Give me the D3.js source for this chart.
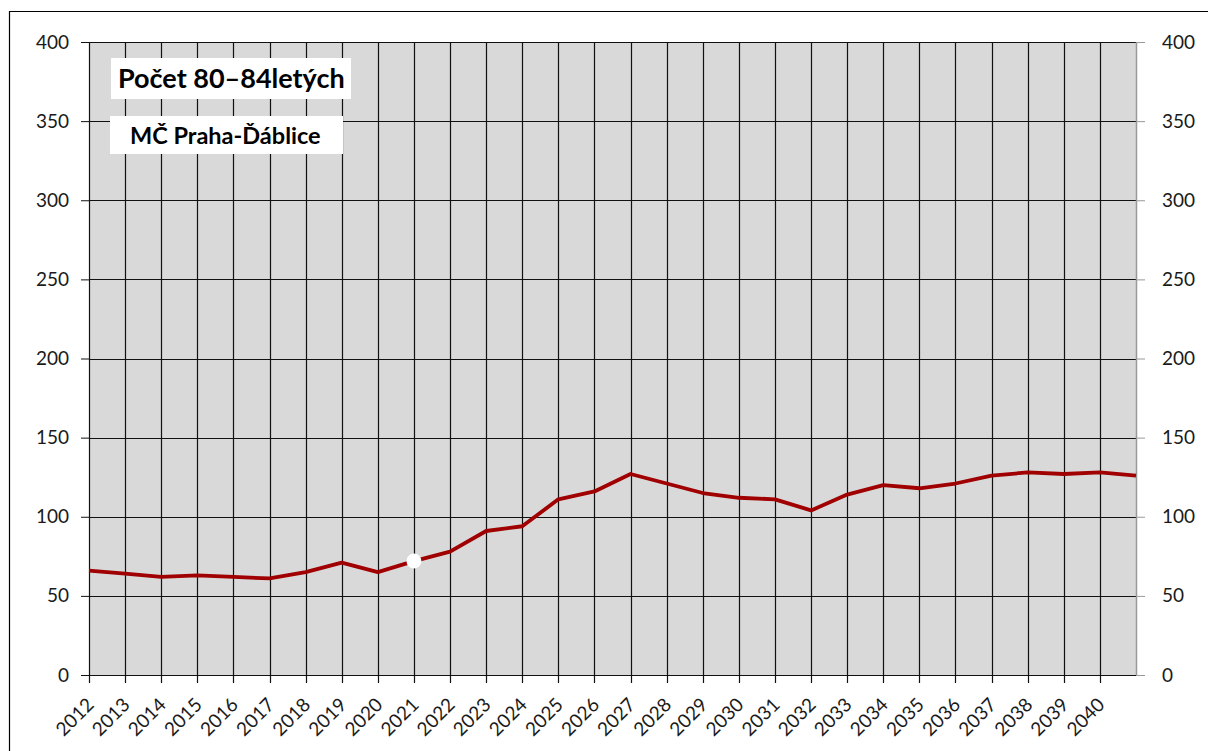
<!DOCTYPE html>
<html>
<head>
<meta charset="utf-8">
<script src="https://cdn.jsdelivr.net/npm/d3@7"></script>
<style>
  html, body { margin: 0; padding: 0; background: #fff; }
  svg { display: block; }
  text { font-family: Lato, "Liberation Sans", sans-serif; }
</style>
</head>
<body>
<svg id="chart" width="1208" height="751"></svg>
<script>
// Years on the horizontal axis (last point sits on the right edge of the plot)
const years = [2012, 2013, 2014, 2015, 2016, 2017, 2018, 2019, 2020, 2021,
               2022, 2023, 2024, 2025, 2026, 2027, 2028, 2029, 2030, 2031,
               2032, 2033, 2034, 2035, 2036, 2037, 2038, 2039, 2040, 2041];
// Number of people aged 80–84
const counts = [66, 64, 62, 63, 62, 61, 65, 71, 65, 72,
                78, 91, 94, 111, 116, 127, 121, 115, 112, 111,
                104, 114, 120, 118, 121, 126, 128, 127, 128, 126];
const tickYears = years.slice(0, -1);
const yTicks = [0, 50, 100, 150, 200, 250, 300, 350, 400];
const markedYear = 2021;
const titleText = "Počet 80–84letých";
const subtitleText = "MČ Praha-Ďáblice";

const svg = d3.select("#chart");
const plot = { left: 89, right: 1136, top: 42, bottom: 675 };

const x = d3.scaleLinear().domain([2012, 2041]).range([plot.left, plot.right]);
const y = d3.scaleLinear().domain([0, 400]).range([plot.bottom, plot.top]);

// outer chart frame
svg.append("path")
  .attr("d", `M9.5,751 V11.5 H1208`)
  .attr("fill", "none").attr("stroke", "#000").attr("stroke-width", 1.2);

// plot background
svg.append("rect")
  .attr("x", plot.left).attr("y", plot.top)
  .attr("width", plot.right - plot.left).attr("height", plot.bottom - plot.top)
  .attr("fill", "#d9d9d9");

// horizontal gridlines
svg.append("g").selectAll("line").data(yTicks).join("line")
  .attr("x1", plot.left).attr("x2", plot.right)
  .attr("y1", d => Math.round(y(d)) + 0.5).attr("y2", d => Math.round(y(d)) + 0.5)
  .attr("stroke", "#111").attr("stroke-width", 1.2);

// vertical gridlines with tick marks below the axis
svg.append("g").selectAll("line").data(tickYears).join("line")
  .attr("x1", d => Math.round(x(d)) + 0.5).attr("x2", d => Math.round(x(d)) + 0.5)
  .attr("y1", plot.top).attr("y2", plot.bottom + 8)
  .attr("stroke", "#111").attr("stroke-width", 1.2);

// right border of the plot
svg.append("line")
  .attr("x1", plot.right + 0.5).attr("x2", plot.right + 0.5)
  .attr("y1", plot.top).attr("y2", plot.bottom)
  .attr("stroke", "#999").attr("stroke-width", 1.5);

// left axis
const leftAxis = d3.axisLeft(y).tickValues(yTicks).tickSize(8).tickPadding(12);
const gl = svg.append("g").attr("transform", `translate(${plot.left},0)`).call(leftAxis);
gl.select(".domain").attr("stroke", "#111");
gl.selectAll(".tick line").attr("stroke", "#111");
gl.selectAll(".tick text").attr("font-size", 19).attr("fill", "#1a1a1a")
  .attr("font-family", "Lato, sans-serif");

// right axis
const rightAxis = d3.axisRight(y).tickValues(yTicks).tickSize(9).tickPadding(17);
const gr = svg.append("g").attr("transform", `translate(${plot.right},0)`).call(rightAxis);
gr.select(".domain").remove();
gr.selectAll(".tick line").attr("stroke", "#999");
gr.selectAll(".tick text").attr("font-size", 19).attr("fill", "#1a1a1a")
  .attr("font-family", "Lato, sans-serif");

// year labels, rotated
svg.append("g").selectAll("text").data(tickYears).join("text")
  .attr("transform", d => `translate(${x(d) + 6},${plot.bottom + 31}) rotate(-45)`)
  .attr("text-anchor", "end")
  .attr("font-size", 19)
  .attr("fill", "#1a1a1a")
  .text(d => d);

// data line
const line = d3.line().x((d, i) => x(years[i])).y(d => y(d));
svg.append("path")
  .datum(counts)
  .attr("d", line)
  .attr("fill", "none")
  .attr("stroke", "#a00000")
  .attr("stroke-width", 3.8)
  .attr("stroke-linejoin", "round");

// highlighted point
const mi = years.indexOf(markedYear);
svg.append("circle")
  .attr("cx", x(years[mi])).attr("cy", y(counts[mi]))
  .attr("r", 7.5).attr("fill", "#fff");

// title boxes
svg.append("rect").attr("x", 111).attr("y", 58).attr("width", 240).attr("height", 41).attr("fill", "#fff");
svg.append("text").attr("x", 118).attr("y", 88)
  .attr("font-size", 27).attr("font-weight", "bold").attr("fill", "#000")
  .text(titleText);

svg.append("rect").attr("x", 110).attr("y", 116).attr("width", 233).attr("height", 38).attr("fill", "#fff");
svg.append("text").attr("x", 130).attr("y", 144)
  .attr("font-size", 23.5).attr("font-weight", "bold").attr("fill", "#000")
  .text(subtitleText);
</script>
</body>
</html>
